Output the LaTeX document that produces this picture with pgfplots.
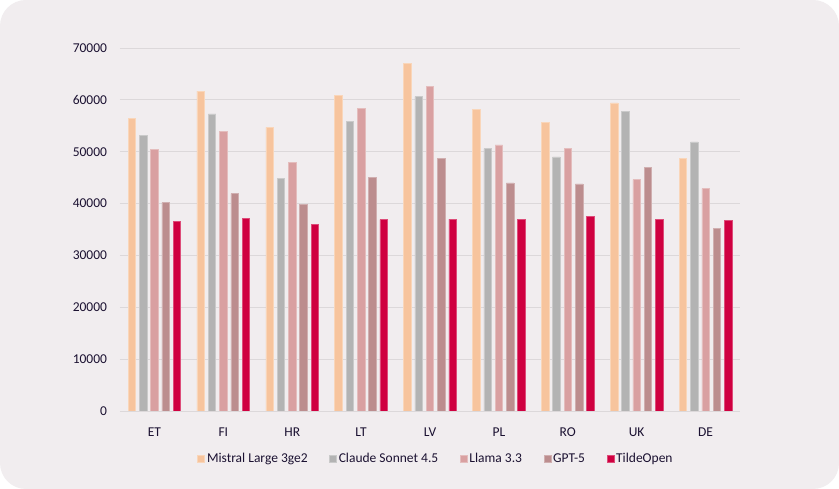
\documentclass[border=0pt]{standalone}
\usepackage{pgfplots}
\pgfplotsset{compat=1.18}
\usepackage{fontspec}
\setmainfont{Carlito}
\definecolor{bg}{HTML}{F1EDEF}
\definecolor{txt}{HTML}{1B1131}
\definecolor{gridc}{HTML}{DCD8DA}
\definecolor{cMis}{HTML}{F7C49D}
\definecolor{cCla}{HTML}{B3B3B3}
\definecolor{cLla}{HTML}{D9A0A1}
\definecolor{cGpt}{HTML}{BC8D8E}
\definecolor{cTil}{HTML}{CF0040}

\pgfplotstableread{
x mis cla lla gpt til
0 56500 53100 50400 40200 36500
1 61700 57300 53900 41900 37100
2 54700 44800 48000 39800 36000
3 60800 55900 58300 45000 36900
4 67000 60600 62600 48700 37000
5 58200 50600 51300 44000 37000
6 55700 49000 50700 43800 37500
7 59400 57700 44600 47000 37000
8 48700 51900 42900 35200 36700
}\scores

\begin{document}
\begin{tikzpicture}[x=1pt,y=1pt]
\fill[white] (0,0) rectangle (839,489);
\fill[bg, rounded corners=26pt] (0,0) rectangle (839,489);
\begin{axis}[
  at={(120pt,78pt)}, anchor=south west,
  scale only axis, width=620pt, height=363pt,
  ymin=0, ymax=70000, xmin=-0.5, xmax=8.5,
  ybar=3.8pt, bar width=7.5pt,
  axis line style={draw=none},
  ytick={0,10000,...,70000},
  ymajorgrids, grid style={draw=gridc, line width=0.9pt},
  major tick length=0pt,
  xtick=data,
  xticklabels={ET,FI,HR,LT,LV,PL,RO,UK,DE},
  scaled y ticks=false,
  /pgf/number format/1000 sep={},
  /pgf/number format/assume math mode=true,
  tick label style={font=\fontsize{13.5}{16}\selectfont, text=txt},
  yticklabel style={xshift=-9.5pt},
  xticklabel style={yshift=-13pt},
  legend style={at={(0.5,-0.105)}, anchor=north, xshift=6pt, draw=none, fill=none,
    legend columns=-1, font=\fontsize{13.5}{16}\selectfont, text=txt,
    /tikz/every even column/.style={column sep=19.5pt}},
  legend image code/.code={\fill[#1] (0pt,-3.3pt) rectangle (7pt,3.7pt);},
  every axis plot/.append style={line width=0.6pt},
]
\addplot[fill=cMis, draw=cMis!70!white] table[x=x,y=mis]{\scores};
\addplot[fill=cCla, draw=cCla!70!white] table[x=x,y=cla]{\scores};
\addplot[fill=cLla, draw=cLla!70!white] table[x=x,y=lla]{\scores};
\addplot[fill=cGpt, draw=cGpt!70!white] table[x=x,y=gpt]{\scores};
\addplot[fill=cTil, draw=cTil!70!white] table[x=x,y=til]{\scores};
\legend{Mistral Large 3ge2, Claude Sonnet 4.5, Llama 3.3, GPT-5, TildeOpen}
\end{axis}
\end{tikzpicture}
\end{document}
